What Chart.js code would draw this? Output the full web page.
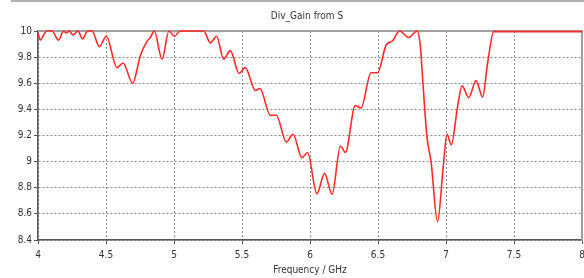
<!DOCTYPE html>
<html>
<head>
<meta charset="utf-8">
<script src="https://cdn.jsdelivr.net/npm/chart.js@4"></script>
<style>
  html, body { margin: 0; padding: 0; background: #fff; }
  #myChart { display: block; }
</style>
</head>
<body>
<canvas id="myChart" width="584" height="278"></canvas>
<script>
// frequenza (GHz) e guadagno
var freq = [4.000, 4.017, 4.041, 4.066, 4.103, 4.151, 4.188, 4.208, 4.230, 4.257,
            4.294, 4.328, 4.365, 4.397, 4.451, 4.502, 4.581, 4.625, 4.696, 4.752,
            4.801, 4.826, 4.855, 4.912, 4.963, 5.002, 5.046, 5.218, 5.267, 5.313,
            5.365, 5.414, 5.479, 5.524, 5.598, 5.632, 5.708, 5.752, 5.826, 5.875,
            5.941, 5.982, 6.051, 6.107, 6.162, 6.224, 6.260, 6.333, 6.375, 6.449,
            6.497, 6.561, 6.603, 6.659, 6.726, 6.787, 6.812, 6.824, 6.860, 6.890,
            6.938, 6.978, 7.007, 7.039, 7.085, 7.118, 7.167, 7.221, 7.269, 7.306,
            7.351, 7.400, 8.000];
var gain = [9.985, 9.93, 9.97, 10, 10, 9.93, 10, 9.985, 10, 9.97,
            10, 9.94, 10, 10, 9.88, 9.96, 9.72, 9.755, 9.60, 9.81,
            9.92, 9.95, 10, 9.785, 10, 9.96, 10, 10, 9.91, 9.96,
            9.785, 9.85, 9.675, 9.72, 9.545, 9.56, 9.355, 9.355, 9.15, 9.21,
            9.03, 9.07, 8.755, 8.91, 8.75, 9.12, 9.07, 9.43, 9.41, 9.68,
            9.68, 9.895, 9.92, 10, 9.95, 10, 9.88, 9.70, 9.19, 9.00,
            8.54, 8.94, 9.21, 9.13, 9.42, 9.58, 9.49, 9.62, 9.495, 9.755,
            9.995, 9.995, 9.995];
var xTicks = [4, 4.5, 5, 5.5, 6, 6.5, 7, 7.5, 8];
var yTicks = [8.4, 8.6, 8.8, 9, 9.2, 9.4, 9.6, 9.8, 10];
var titolo = 'Div_Gain from S';

var punti = freq.map(function (f, i) { return { x: f, y: gain[i] }; });

var fontTick = { family: "'DejaVu Sans Condensed', 'DejaVu Sans', sans-serif", size: 10 };

// bordi grigi sopra/destra, cornice in alto e titolo centrato sull'area del grafico
var cornice = {
  id: 'cornice',
  beforeDatasetsDraw: function (chart) {
    var c = chart.ctx, a = chart.chartArea;
    c.save();
    c.strokeStyle = '#a0a0a0';
    c.lineWidth = 2;
    c.beginPath();
    c.moveTo(a.left, a.top);
    c.lineTo(a.right, a.top);
    c.lineTo(a.right, a.bottom);
    c.stroke();
    c.strokeStyle = '#b0b0b0';
    c.beginPath();
    c.moveTo(11, 1);
    c.lineTo(584, 1);
    c.stroke();
    c.fillStyle = '#333';
    c.font = "10px 'DejaVu Sans Condensed', 'DejaVu Sans', sans-serif";
    c.textAlign = 'center';
    c.textBaseline = 'middle';
    c.fillText(titolo, (a.left + a.right) / 2 - 3, 16);
    c.restore();
  }
};

var ctx = document.getElementById('myChart');
var chart = new Chart(ctx, {
  type: 'line',
  data: {
    datasets: [{
      label: titolo,
      data: punti,
      borderColor: '#ff2a2a',
      borderWidth: 1.6,
      pointRadius: 0,
      fill: false,
      clip: false,
      cubicInterpolationMode: 'monotone'
    }]
  },
  options: {
    responsive: false,
    animation: false,
    layout: { padding: { left: 0, right: 2, top: 31, bottom: 0 } },
    plugins: {
      legend: { display: false },
      tooltip: { enabled: false },
      title: { display: false }
    },
    scales: {
      x: {
        type: 'linear',
        min: 4,
        max: 8,
        afterBuildTicks: function (s) { s.ticks = xTicks.map(function (v) { return { value: v }; }); },
        afterFit: function (s) { s.height = 38; s.paddingRight = 0; s.paddingLeft = 0; },
        ticks: {
          color: '#333',
          font: fontTick,
          padding: 5,
          maxRotation: 0,
          callback: function (v) { return String(v); }
        },
        grid: {
          color: '#8a8a8a',
          tickLength: 4,
          tickColor: '#555',
          tickBorderDash: []
        },
        border: { display: true, color: '#555', width: 1.5, dash: [2, 2] },
        title: {
          display: true,
          text: 'Frequency / GHz',
          color: '#333',
          font: fontTick,
          padding: { top: 0, bottom: 2 }
        }
      },
      y: {
        min: 8.4,
        max: 10,
        afterBuildTicks: function (s) { s.ticks = yTicks.map(function (v) { return { value: v }; }); },
        afterFit: function (s) { s.width = 38; s.paddingTop = 0; s.paddingBottom = 0; },
        ticks: {
          color: '#333',
          font: fontTick,
          padding: 2,
          callback: function (v) { return String(Number(v.toFixed(1))); }
        },
        grid: {
          color: '#8a8a8a',
          tickLength: 4,
          tickColor: '#555',
          tickBorderDash: []
        },
        border: { display: true, color: '#555', width: 1.5, dash: [2, 2] }
      }
    }
  },
  plugins: [cornice]
});
</script>
</body>
</html>
